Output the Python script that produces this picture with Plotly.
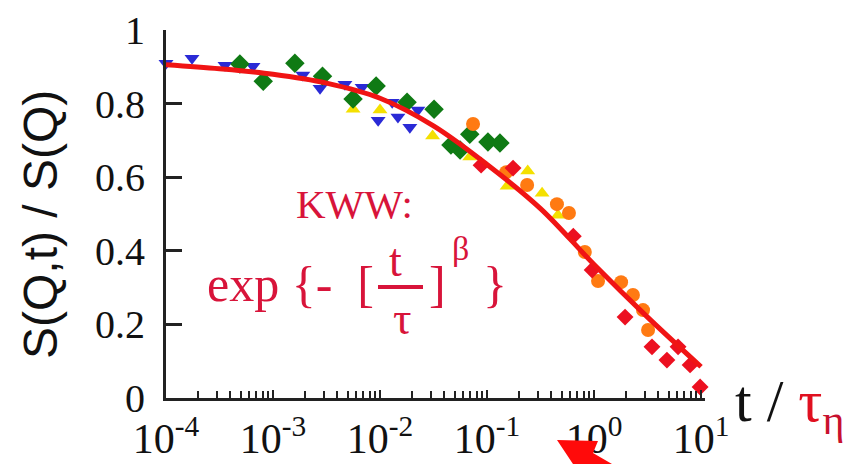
import plotly.graph_objects as go

# ---- measured data: t / tau_eta  versus  S(Q,t)/S(Q) ----
blue_t = [1.0e-4, 1.75e-4, 3.56e-4, 6.5e-4, 1.9e-3, 2.75e-3, 4.7e-3, 6.8e-3,
          9.6e-3, 1.3e-2, 1.47e-2, 1.9e-2, 2.26e-2]
blue_s = [0.910, 0.924, 0.905, 0.902, 0.878, 0.842, 0.853, 0.845,
          0.755, 0.804, 0.764, 0.736, 0.783]

green_t = [4.9e-4, 8.1e-4, 1.6e-3, 2.9e-3, 5.6e-3, 9.2e-3, 1.79e-2, 3.2e-2,
           4.6e-2, 5.6e-2, 6.9e-2, 0.102, 0.132]
green_s = [0.908, 0.861, 0.910, 0.875, 0.813, 0.848, 0.804, 0.785,
           0.688, 0.674, 0.717, 0.696, 0.693]

yellow_t = [5.6e-3, 1.0e-2, 3.1e-2, 6.9e-2, 0.154, 0.24, 0.327, 0.46]
yellow_s = [0.785, 0.783, 0.712, 0.655, 0.576, 0.617, 0.557, 0.497]

orange_t = [0.074, 0.151, 0.237, 0.45, 0.583, 0.82, 1.09, 1.79, 2.31, 2.87, 3.2]
orange_s = [0.745, 0.614, 0.579, 0.527, 0.503, 0.397, 0.318, 0.315, 0.280, 0.239, 0.185]

red_t = [0.088, 0.175, 0.64, 0.96, 1.95, 3.48, 4.8, 6.1, 7.9, 9.8]
red_s = [0.633, 0.625, 0.440, 0.348, 0.220, 0.139, 0.103, 0.139, 0.090, 0.030]

# KWW fit curve
kww_t = [1e-4, 3.16e-4, 1e-3, 3.16e-3, 1e-2, 3.16e-2, 0.1, 0.316, 1.0, 3.16, 10.0]
kww_s = [0.906, 0.895, 0.880, 0.856, 0.815, 0.740, 0.635, 0.515, 0.363, 0.220, 0.085]

# axis ticks
x_tickvals = [1e-4, 1e-3, 1e-2, 1e-1, 1e0, 1e1]
x_ticktext = ["10<sup>-4</sup>", "10<sup>-3</sup>", "10<sup>-2</sup>",
              "10<sup>-1</sup>", "10<sup>0</sup>", "10<sup>1</sup>"]
y_tickvals = [0, 0.2, 0.4, 0.6, 0.8, 1.0]
y_ticktext = ["0", "0.2", "0.4", "0.6", "0.8", "1"]

W, H = 852, 464
L, R, T, B = 166, 705, 30, 398   # plot-area edges in pixels


def px(x, y):
    """pixel position -> paper coordinates"""
    return (x - L) / (R - L), (B - y) / (B - T)


SERIF = "Liberation Serif, serif"
SANS = "Liberation Sans, sans-serif"
TXT_RED = "#d8143a"
LINE_RED = "#f01414"

fig = go.Figure()


def scatter(t, s, symbol, color, size):
    fig.add_trace(go.Scatter(
        x=t, y=s, mode="markers",
        marker=dict(symbol=symbol, color=color, size=size, line=dict(width=0)),
        showlegend=False, cliponaxis=False))


scatter(yellow_t, yellow_s, "triangle-up", "#f4e000", 13)
scatter(blue_t, blue_s, "triangle-down", "#2a2ad6", 13)
scatter(green_t, green_s, "diamond", "#0f7a14", 15)
scatter(orange_t, orange_s, "circle", "#ff7a12", 14)
scatter(red_t, red_s, "diamond", "#ec1020", 13)

fig.add_trace(go.Scatter(
    x=kww_t, y=kww_s, mode="lines",
    line=dict(color=LINE_RED, width=5, shape="spline", smoothing=1.0),
    showlegend=False))

minor_vals = [m * 10.0 ** e for e in range(-4, 1) for m in range(2, 10)]

fig.update_xaxes(
    type="log", range=[-4.0001, 1.037], automargin=False,
    showline=True, linecolor="#222", linewidth=3,
    showgrid=False, zeroline=False,
    ticks="inside", ticklen=8, tickwidth=1.5, tickcolor="#222",
    tickmode="array", tickvals=x_tickvals, ticktext=x_ticktext,
    tickfont=dict(family=SERIF, size=42, color="#111"),
    ticklabelstandoff=2,
    minor=dict(tickmode="array", tickvals=minor_vals, ticks="inside",
               ticklen=7, tickwidth=1.5, tickcolor="#222", showgrid=False),
)
fig.update_yaxes(
    range=[0, 1.0005], automargin=False,
    showline=True, linecolor="#222", linewidth=3,
    showgrid=False, zeroline=False,
    ticks="inside", ticklen=16, tickwidth=2.5, tickcolor="#222",
    tickmode="array", tickvals=y_tickvals, ticktext=y_ticktext,
    tickfont=dict(family=SERIF, size=40, color="#111"),
    ticklabelstandoff=10,
)

ann = []


def text(x, y, s, size, color="#111", family=SERIF, xanchor="center", angle=0):
    ax, ay = px(x, y)
    ann.append(dict(x=ax, y=ay, xref="paper", yref="paper", text=s,
                    showarrow=False, xanchor=xanchor, yanchor="middle",
                    textangle=angle,
                    font=dict(family=family, size=size, color=color)))


# y-axis title
text(40, 225, "S(Q,t) / S(Q)", 48, family=SANS, angle=-90)
# x-axis title
text(733, 405, "t / <span style='color:#e01020'>τ</span>"
     "<sub><span style='color:#c8102e'>η</span></sub>", 60, xanchor="left")
# KWW formula
text(354, 204, "KWW:", 41, color=TXT_RED)
text(205, 284, "exp {-  [", 50, color=TXT_RED, xanchor="left")
text(395, 260, "t", 46, color=TXT_RED)
text(402, 318, "τ", 46, color=TXT_RED)
text(437, 284, "]", 50, color=TXT_RED)
text(460, 248, "β", 34, color=TXT_RED)
text(495, 284, "}", 50, color=TXT_RED)

shapes = []
bx0, by0 = px(378, 287)
bx1, by1 = px(423, 287)
shapes.append(dict(type="line", xref="paper", yref="paper",
                   x0=bx0, y0=by0, x1=bx1, y1=by1,
                   line=dict(color=TXT_RED, width=4)))

# red pointer arrow at the bottom edge
arrow_px = [(557, 440), (598, 441), (593, 453), (612, 464), (573, 464)]
pts = [px(a, b) for a, b in arrow_px]
path = "M " + " L ".join(f"{a:.5f},{b:.5f}" for a, b in pts) + " Z"
shapes.append(dict(type="path", xref="paper", yref="paper", path=path,
                   fillcolor="#ff0a0a", line=dict(width=0)))

fig.update_layout(
    width=W, height=H,
    font=dict(family=SERIF, color="#111"),
    margin=dict(l=L, r=W - R, t=T, b=H - B, pad=0, autoexpand=False),
    paper_bgcolor="white", plot_bgcolor="white",
    annotations=ann, shapes=shapes,
)

fig.write_html("out.html")
